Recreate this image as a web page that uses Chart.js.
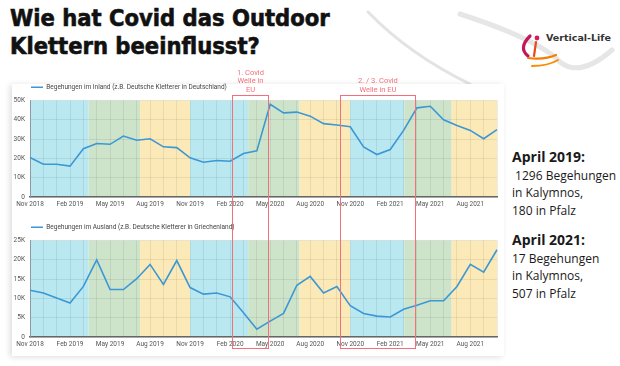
<!DOCTYPE html>
<html><head><meta charset="utf-8">
<script src="https://cdn.jsdelivr.net/npm/chart.js@4.4.0/dist/chart.umd.min.js"></script>
<style>
html,body{margin:0;padding:0;background:#fff;}
#stage{position:relative;width:620px;height:366px;overflow:hidden;font-family:Roboto,sans-serif;background:#fff;}
#title{position:absolute;left:10px;top:4px;font-family:'DejaVu Sans Condensed','DejaVu Sans',sans-serif;font-weight:bold;font-size:23.5px;line-height:28px;color:#111;white-space:nowrap;-webkit-text-stroke:0.6px #111;}
.card{position:absolute;left:12px;top:84px;width:492px;height:272px;box-shadow:-2px 1px 6px rgba(0,0,0,0.14);background:#fff;}
.cw{position:absolute;left:0;}
.side{position:absolute;left:512px;font-family:'Open Sans',sans-serif;font-size:12px;line-height:17.5px;color:#1a1a1a;white-space:nowrap;}
.side b{font-size:14px;}
.wave{position:absolute;border:1.5px solid #f2707c;box-sizing:border-box;}
.wavelabel{position:absolute;color:#f2707c;font-size:7.5px;line-height:8.5px;text-align:center;white-space:nowrap;transform:translateX(-50%);}
#logo{position:absolute;left:546px;top:32px;font-family:'DejaVu Sans',sans-serif;font-weight:bold;font-size:9.5px;color:#333;}
</style></head>
<body>
<div id="stage">
  <svg width="620" height="110" style="position:absolute;left:0;top:0">
    <path d="M368 12 Q 410 55 470 84" stroke="#e3e3e3" stroke-width="3" fill="none" stroke-linecap="round"/>
    <path d="M460 14 Q 540 40 560 62 Q 580 78 612 50" stroke="#e6e6e6" stroke-width="5" fill="none" stroke-linecap="round"/>
    <path d="M530 36 Q 518 48 528 56" stroke="#c2185b" stroke-width="3.2" fill="none" stroke-linecap="round"/>
    <circle cx="537" cy="38" r="2.4" fill="#d81b60"/>
    <path d="M536 42 L 534 56" stroke="#e64a19" stroke-width="2.2" fill="none" stroke-linecap="round"/>
    <path d="M528 58 Q 545 60 556 55" stroke="#f57c00" stroke-width="2.2" fill="none" stroke-linecap="round"/>
    <path d="M532 66 Q 548 66 558 60" stroke="#fb8c00" stroke-width="2" fill="none" stroke-linecap="round"/>
  </svg>
  <div id="title">Wie hat Covid das Outdoor<br>Klettern beeinflusst?</div>
  <div id="logo">Vertical-Life</div>
  <div class="card"></div>
  <div class="cw" style="top:83px;width:500px;height:128px"><canvas id="c1" width="500" height="128"></canvas></div>
  <div class="cw" style="top:223px;width:500px;height:128px"><canvas id="c2" width="500" height="128"></canvas></div>
  <div class="side" style="top:148px"><b>April 2019:</b><br>&nbsp;1296 Begehungen<br>in Kalymnos,<br>180 in Pfalz</div>
  <div class="side" style="top:231px"><b>April 2021:</b><br>17 Begehungen<br>in Kalymnos,<br>507 in Pfalz</div>
</div>
<script>
// ---- data ----
const months = ['Nov 2018','Dec 2018','Jan 2019','Feb 2019','Mar 2019','Apr 2019','May 2019','Jun 2019','Jul 2019','Aug 2019','Sep 2019','Oct 2019','Nov 2019','Dec 2019','Jan 2020','Feb 2020','Mar 2020','Apr 2020','May 2020','Jun 2020','Jul 2020','Aug 2020','Sep 2020','Oct 2020','Nov 2020','Dec 2020','Jan 2021','Feb 2021','Mar 2021','Apr 2021','May 2021','Jun 2021','Jul 2021','Aug 2021','Sep 2021','Oct 2021'];
const inland = [20500,17000,17000,16000,25000,27700,27300,31600,29400,30200,26000,25600,20300,18000,18900,18500,22500,23900,48000,43600,44000,41900,38000,37300,36400,26000,22000,24600,34500,46200,47000,40000,37000,34500,30200,34900];
const ausland = [12100,11400,10100,8800,13100,20000,12300,12300,15100,18800,13600,19800,12800,11100,11400,10400,6300,2000,4100,6100,13400,15700,11400,13100,8100,6100,5400,5200,7200,8200,9400,9400,13100,18800,16800,22600];
const inlandLabel = 'Begehungen im Inland (z.B. Deutsche Kletterer in Deutschland)';
const auslandLabel = 'Begehungen im Ausland (z.B. Deutsche Kletterer in Griechenland)';
// season bands, in month index units
const bandSeason = ['winter','spring','summer','winter','spring','summer','winter','spring','summer'];
const bandStart = [0, 4.4, 8.25, 12, 16.35, 20.2, 24, 28.05, 31.6];
const bandEnd   = [4.4, 8.25, 12, 16.35, 20.2, 24, 28.05, 31.6, 35];
// covid waves, in month index units
const waveText  = [['1. Covid','Welle in','EU'], ['2. / 3. Covid','Welle in EU']];
const waveStart = [15.15, 23.2];
const waveEnd   = [17.9, 28.95];
const inlandMax = 50000, inlandStep = 5000, inlandLabelStep = 10000;
const auslandMax = 25000, auslandStep = 2500, auslandLabelStep = 5000;

// ---- styles ----
const seasonColor = {winter:'#bae8f0', spring:'#cde4ca', summer:'#fbeab8'};
const lineColor = '#3b97d6';
const gridColor = 'rgba(0,0,0,0.075)';
const tickFont = {family:'Roboto', size:6.5};

const bandsPlugin = {
  id:'bands',
  beforeDraw(chart){
    const {ctx, chartArea:a, scales:{x}} = chart;
    ctx.save();
    for(let i=0;i<bandStart.length;i++){
      const x0 = x.getPixelForValue(bandStart[i]);
      const x1 = x.getPixelForValue(bandEnd[i]);
      ctx.fillStyle = seasonColor[bandSeason[i]];
      ctx.fillRect(x0, a.top, x1-x0, a.bottom-a.top);
    }
    ctx.restore();
  }
};

function makeChart(id, label, values, max, step, labelStep){
  return new Chart(document.getElementById(id), {
    type:'line',
    data:{labels:months, datasets:[{label, data:values, borderColor:lineColor, backgroundColor:lineColor, borderWidth:1.6, pointRadius:0, tension:0, fill:false}]},
    options:{
      responsive:false, animation:false, devicePixelRatio:1,
      layout:{padding:{left:0,right:3,top:0,bottom:0}},
      plugins:{
        legend:{display:true, position:'top', align:'start', fullSize:false,
          labels:{usePointStyle:true, pointStyle:'line', pointStyleWidth:12, padding:1, color:'#444', font:{family:'Roboto', size:6.5}}},
        tooltip:{enabled:false}
      },
      scales:{
        x:{type:'category', offset:false,
          grid:{color:gridColor, drawTicks:false},
          border:{color:'#666', width:1.5},
          ticks:{autoSkip:false, maxRotation:0, padding:3, color:'#555', font:tickFont,
            callback:(v,i)=> i%3===0 ? months[i] : ''},
          afterFit:(s)=>{ s.height = 14; }
        },
        y:{min:0, max:max,
          grid:{color:gridColor, drawTicks:false},
          border:{color:'#8a9aa8', width:1},
          ticks:{stepSize:step, padding:5, color:'#555', font:tickFont,
            callback:(v)=> v%labelStep===0 ? (v===0 ? '0' : (v/1000)+'K') : ''},
          afterFit:(s)=>{ s.width = 30; }
        }
      }
    },
    plugins:[bandsPlugin]
  });
}

const c1 = makeChart('c1', inlandLabel, inland, inlandMax, inlandStep, inlandLabelStep);
const c2 = makeChart('c2', auslandLabel, ausland, auslandMax, auslandStep, auslandLabelStep);

// covid wave boxes positioned from the x scale of the chart
const stage = document.getElementById('stage');
const xs = c1.scales.x;
const canvasLeft = 0;
for(let i=0;i<waveStart.length;i++){
  const x0 = canvasLeft + xs.getPixelForValue(waveStart[i]);
  const x1 = canvasLeft + xs.getPixelForValue(waveEnd[i]);
  const box = document.createElement('div');
  box.className='wave';
  box.style.left = x0+'px'; box.style.width=(x1-x0)+'px';
  box.style.top='95px'; box.style.height='254px';
  stage.appendChild(box);
  const lab = document.createElement('div');
  lab.className='wavelabel';
  lab.innerHTML = waveText[i].join('<br>');
  lab.style.left = ((x0+x1)/2)+'px';
  lab.style.bottom = (366-94)+'px';
  stage.appendChild(lab);
}
</script>
</body></html>
